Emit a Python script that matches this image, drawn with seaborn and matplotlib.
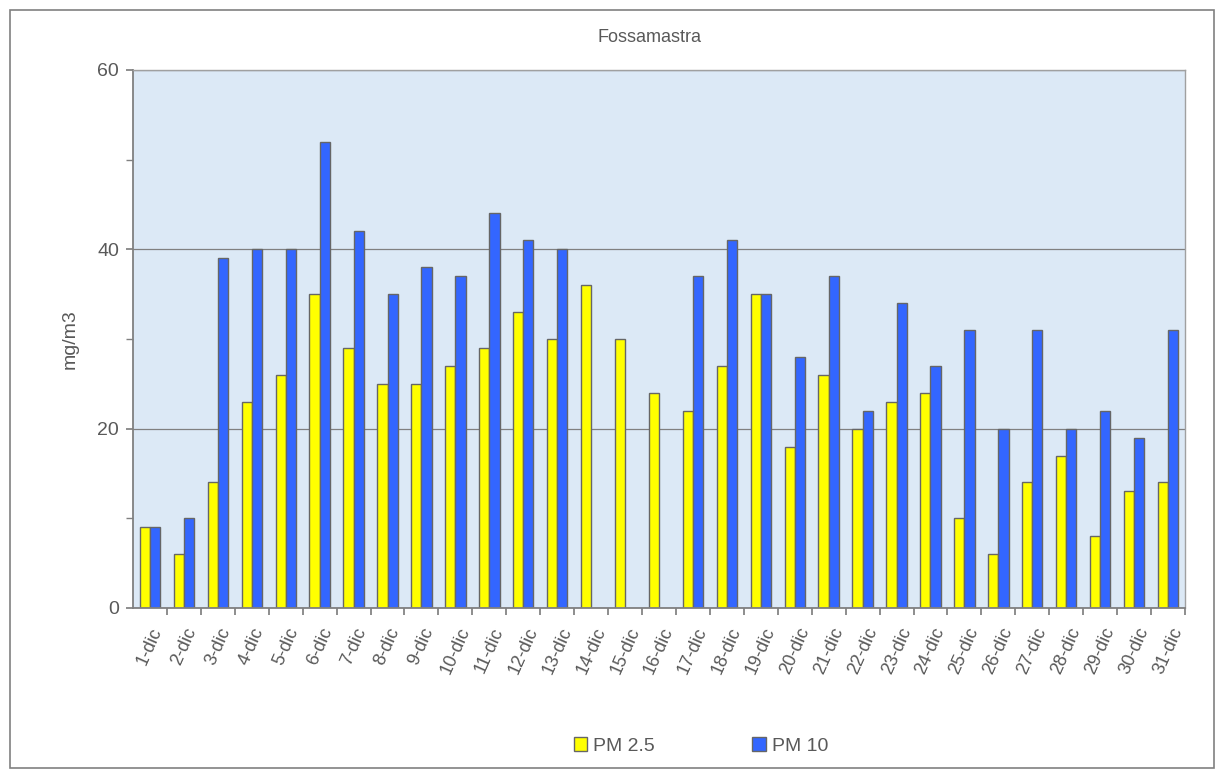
import numpy as np
import pandas as pd
import matplotlib
matplotlib.use("Agg")
import matplotlib.pyplot as plt
import seaborn as sns
from matplotlib.patches import Rectangle

# data
days = [f"{d}-dic" for d in range(1, 32)]
pm25 = [9, 6, 14, 23, 26, 35, 29, 25, 25, 27, 29, 33, 30, 36, 30, 24,
        22, 27, 35, 18, 26, 20, 23, 24, 10, 6, 14, 17, 8, 13, 14]
pm10 = [9, 10, 39, 40, 40, 52, 42, 35, 38, 37, 44, 41, 40, np.nan, np.nan, np.nan,
        37, 41, 35, 28, 37, 22, 34, 27, 31, 20, 31, 20, 22, 19, 31]
series = ["PM 2.5", "PM 10"]
colors = ["#FFFF00", "#3366FF"]

df = pd.DataFrame({
    "day": days * 2,
    "value": pm25 + pm10,
    "series": [series[0]] * len(days) + [series[1]] * len(days),
})

sns.set_theme(style="white")
plt.rcParams['font.family'] = ['Liberation Sans', 'DejaVu Sans']
text_col = "#595959"

fig = plt.figure(figsize=(12.24, 7.78), dpi=100)
# outer chart border
fig.patches.append(Rectangle((10 / 1224, 10 / 778), 1204 / 1224, 758 / 778,
                             transform=fig.transFigure, fill=False,
                             edgecolor="#808080", linewidth=1.2))

ax = fig.add_axes([133 / 1224, 1 - 608 / 778, (1185 - 133) / 1224, (608 - 70) / 778])
ax.set_facecolor("#dce9f6")

sns.barplot(data=df, x="day", y="value", hue="series", hue_order=series,
            palette=colors, saturation=1, width=0.6, edgecolor="#666666",
            linewidth=1, ax=ax, order=days)

ax.set_ylim(0, 60)
ax.set_xlim(-0.5, len(days) - 0.5)
ax.set_yticks([0, 20, 40, 60])
ax.set_yticks([10, 30, 50], minor=True)
ax.grid(axis="y", which="major", color="#808080", linewidth=0.9)
ax.set_axisbelow(True)

# x ticks: marks between categories, labels at centres
ax.set_xticks(np.arange(len(days)) + 0.5)
ax.set_xticklabels([])
ax.set_xticks(np.arange(len(days)), minor=True)
ax.set_xticklabels(days, minor=True, rotation=66, ha="center", va="top",
                   fontsize=13, color=text_col)
ax.tick_params(axis="x", which="minor", length=0, pad=12)
ax.tick_params(axis="x", which="major", length=5, color="#808080", direction="out", bottom=True)
ax.tick_params(axis="y", which="both", length=5, color="#808080", direction="out", left=True,
               labelsize=14, labelcolor=text_col, pad=5)

for side in ["left", "bottom"]:
    ax.spines[side].set_color("#808080")
    ax.spines[side].set_linewidth(1.3)
for side in ["top", "right"]:
    ax.spines[side].set_color("#a0a0a0")
    ax.spines[side].set_linewidth(1)

ax.set_xlabel("")
ax.set_ylabel("mg/m3", fontsize=14, color=text_col)
ax.yaxis.set_label_coords(-54 / 1052, 0.5)
ax.set_title("Fossamastra", fontsize=13, color=text_col, pad=20, x=0.5 - 10 / 1052)

ax.legend_.remove()
handles = [Rectangle((0, 0), 1, 1, facecolor=c, edgecolor="#666666", linewidth=1) for c in colors]
fig.legend(handles, series, loc="center", bbox_to_anchor=(701 / 1224, 1 - 746 / 778),
           ncol=2, frameon=False, fontsize=14, handlelength=0.7, handleheight=0.7,
           handletextpad=0.3, columnspacing=5.0, labelcolor=text_col)

fig.savefig("out.png", dpi=100)
